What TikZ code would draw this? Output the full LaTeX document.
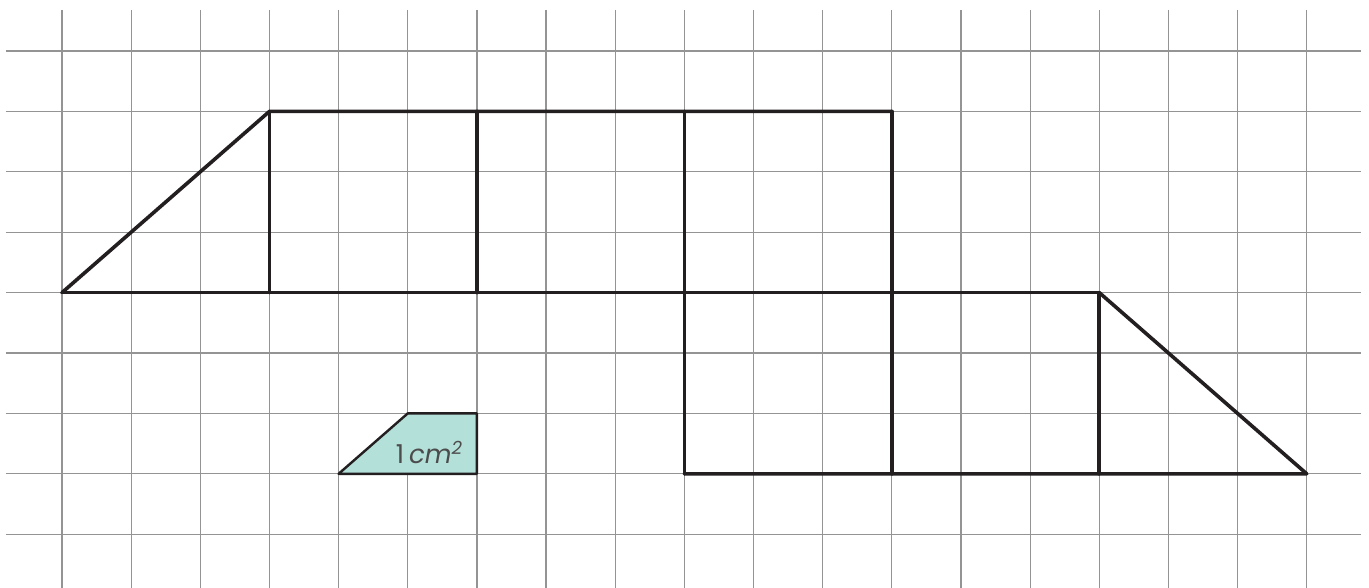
\documentclass[tikz,border=0pt]{standalone}
\usepackage{fontspec}
\setmainfont{Poppins}
\begin{document}
\begin{tikzpicture}[x=1pt,y=-1pt,
  gridline/.style={draw=black!42,line width=1.2pt},
  shapeline/.style={draw={rgb,255:red,35;green,31;blue,32},line width=3.6pt,line cap=round,line join=round},
  unitfill/.style={draw={rgb,255:red,35;green,31;blue,32},line width=2.4pt,line join=round}]
\useasboundingbox (0,0) rectangle (1369,587);
\fill[white] (0,0) rectangle (1369,587);
\begin{scope}[shift={(62,51)},x={(69.15pt,0)},y={(0,-60.4pt)}]
  % grid
  \foreach \i in {0,...,18} \draw[gridline] (\i,-0.68) -- (\i,8.95);
  \foreach \j in {0,...,8} \draw[gridline] (-0.81,\j) -- (18.79,\j);
  % unit shape
  \coordinate (u1) at (4,7);
  \coordinate (u2) at (5,6);
  \coordinate (u3) at (6,6);
  \coordinate (u4) at (6,7);
  \filldraw[unitfill,fill={rgb,255:red,179;green,224;blue,216}] (u1) -- (u2) -- (u3) -- (u4) -- cycle;
  \node[text=black!70,font=\fontsize{26}{28}\selectfont,inner sep=0pt] (lbl) at (5.31,6.65) {1\hspace{5pt}{\itshape cm\textsuperscript{2}}};
  % upper figure
  \coordinate (a0) at (0,4);
  \coordinate (a1) at (3,1);
  \coordinate (a2) at (12,1);
  \coordinate (a3) at (15,4);
  \draw[shapeline] (a0) -- (a1) -- (a2) -- (12,4);
  \draw[shapeline] (a0) -- (a3);
  \draw[shapeline] (3,1) -- (3,4);
  \draw[shapeline] (6,1) -- (6,4);
  \draw[shapeline] (9,1) -- (9,7);
  \draw[shapeline] (12,1) -- (12,7);
  \draw[shapeline] (15,4) -- (15,7);
  \coordinate (b0) at (9,7);
  \coordinate (b1) at (18,7);
  \draw[shapeline] (b0) -- (b1) -- (a3);
\end{scope}
\end{tikzpicture}
\end{document}
